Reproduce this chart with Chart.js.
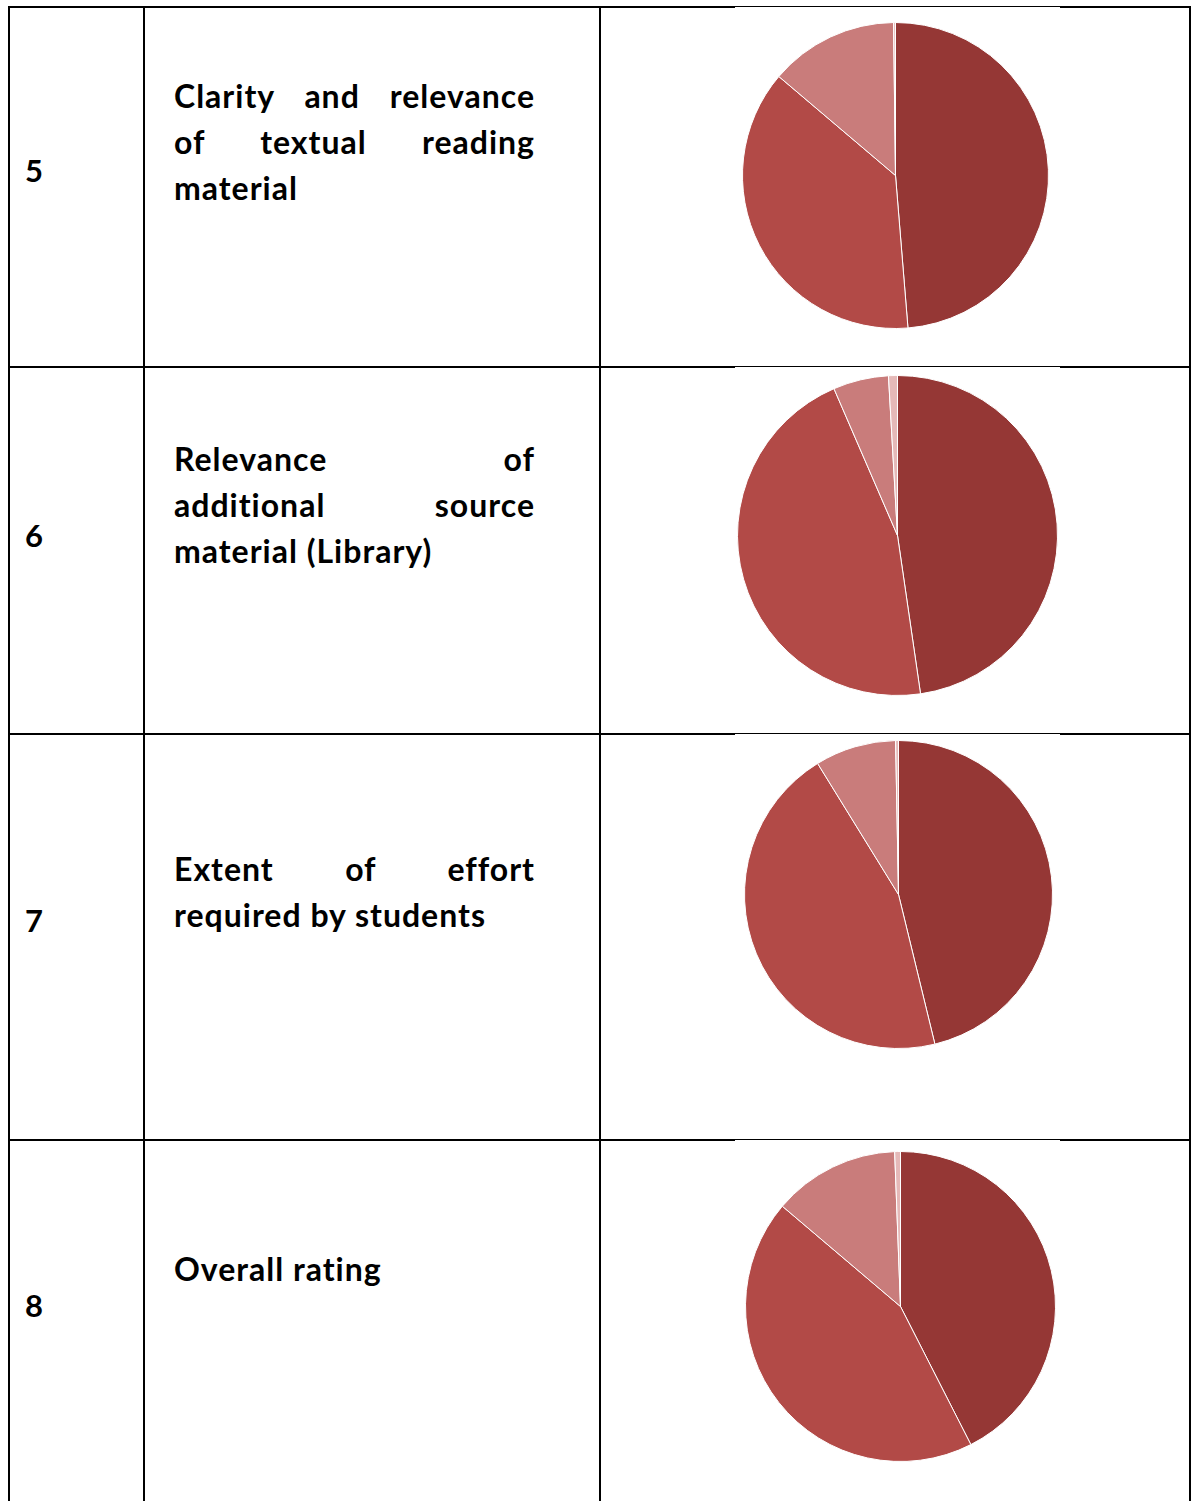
<!DOCTYPE html>
<html>
<head>
<meta charset="utf-8">
<script src="https://cdn.jsdelivr.net/npm/chart.js@4.4.0/dist/chart.umd.min.js"></script>
<style>
    body { margin: 0; width: 1195px; height: 1501px; overflow: hidden; background: #fff; font-family: Lato, "Open Sans", sans-serif; }
    .line { position: absolute; background: #000; }
    .num { position: absolute; left: 25px; font-weight: 700; font-size: 31px; line-height: 46px; color: #000; }
    .txt { position: absolute; left: 174px; width: 361px; font-weight: 700; font-size: 32px; letter-spacing: 1px; line-height: 46px; color: #000; }
    .txt div { white-space: nowrap; }
    .txt div.just { text-align: justify; text-align-last: justify; }
    .pie-box { position: absolute; left: 735px; width: 325px; background: #fff; }
    .pie-box canvas { position: absolute; }
</style>
</head>
<body>
<script>
// Номери питань і тексти (по рядках, як у комірці таблиці)
const questionNos = ['5', '6', '7', '8'];
const questionLines = [
    ['Clarity and relevance', 'of textual reading', 'material'],
    ['Relevance of', 'additional source', 'material (Library)'],
    ['Extent of effort', 'required by students'],
    ['Overall rating']
];

// Категорії оцінок (легенда на зображенні не показана)
const ratingLabels = ['Excellent', 'Good', 'Average', 'Poor'];

// Частки відповідей, % (зчитано з кругових діаграм)
const clarityShares = [48.7, 37.5, 13.6, 0.2];
const libraryShares = [47.7, 45.8, 5.6, 0.9];
const effortShares = [46.2, 45.0, 8.5, 0.3];
const overallShares = [42.5, 43.7, 13.2, 0.6];

const sliceColors = ['#953735', '#b24a47', '#c97c7b', '#e5b9b8'];

// Розмітка таблиці
const rowTops = [6, 366, 733, 1139];
const numTops = [147, 512, 897, 1282];
const textTops = [73, 436, 846, 1246];
const pies = [
    { data: clarityShares, cx: 895, cy: 175, r: 153 },
    { data: libraryShares, cx: 897, cy: 535, r: 160 },
    { data: effortShares, cx: 898, cy: 894, r: 154 },
    { data: overallShares, cx: 900, cy: 1306, r: 155 }
];

function addLine(x, y, w, h) {
    const d = document.createElement('div');
    d.className = 'line';
    d.style.left = x + 'px';
    d.style.top = y + 'px';
    d.style.width = w + 'px';
    d.style.height = h + 'px';
    document.body.appendChild(d);
}

function buildTable() {
    rowTops.forEach(y => addLine(8, y, 1183, 2));
    [8, 143, 599, 1189].forEach(x => addLine(x, 6, 2, 1501));

    questionNos.forEach((n, i) => {
        const num = document.createElement('div');
        num.className = 'num';
        num.style.top = numTops[i] + 'px';
        num.textContent = n;
        document.body.appendChild(num);

        const txt = document.createElement('div');
        txt.className = 'txt';
        txt.style.top = textTops[i] + 'px';
        const lines = questionLines[i];
        lines.forEach((l, j) => {
            const row = document.createElement('div');
            if (j < lines.length - 1) row.className = 'just';
            row.textContent = l;
            txt.appendChild(row);
        });
        document.body.appendChild(txt);
    });
}

function createPie(p, i) {
    const box = document.createElement('div');
    box.className = 'pie-box';
    const top = rowTops[i] + 1;
    box.style.top = top + 'px';
    box.style.height = '356px';
    document.body.appendChild(box);

    const size = p.r * 2 + 1;
    const canvas = document.createElement('canvas');
    canvas.width = size;
    canvas.height = size;
    canvas.style.left = (p.cx - p.r - 0.5 - 735) + 'px';
    canvas.style.top = (p.cy - p.r - 0.5 - top) + 'px';
    canvas.style.width = size + 'px';
    canvas.style.height = size + 'px';
    box.appendChild(canvas);

    new Chart(canvas.getContext('2d'), {
        type: 'pie',
        data: {
            labels: ratingLabels,
            datasets: [{
                data: p.data,
                backgroundColor: sliceColors,
                borderColor: '#ffffff',
                borderWidth: 1,
                hoverOffset: 0
            }]
        },
        options: {
            responsive: false,
            animation: false,
            events: [],
            layout: { padding: 0 },
            plugins: {
                legend: { display: false },
                tooltip: { enabled: false }
            }
        }
    });
}

buildTable();
pies.forEach(createPie);
</script>
</body>
</html>
